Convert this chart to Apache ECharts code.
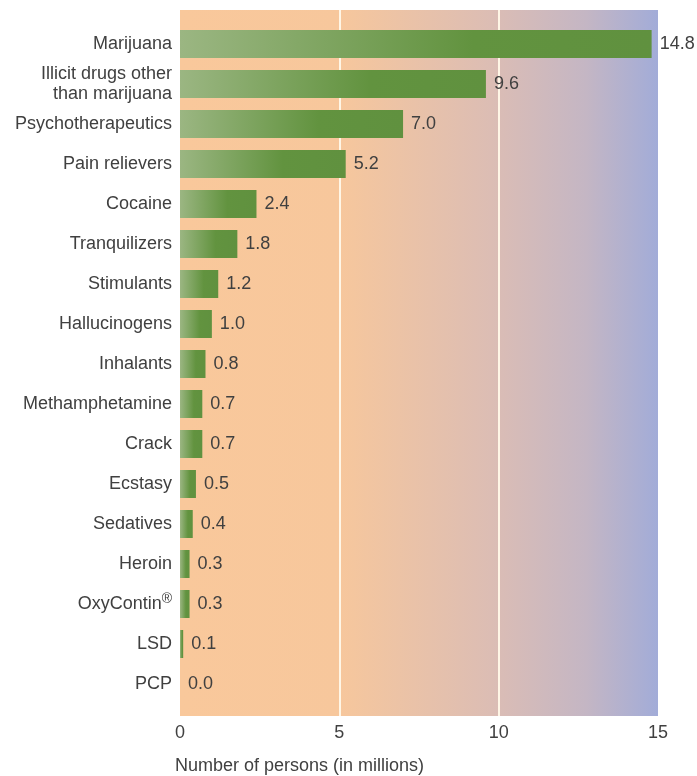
<!DOCTYPE html>
<html>
<head>
<meta charset="utf-8">
<script src="https://cdn.jsdelivr.net/npm/echarts@6/dist/echarts.min.js"></script>
<style>html,body{margin:0;padding:0;background:#fff}#c{width:697px;height:776px}</style>
</head>
<body>
<div id="c"></div>
<script>
const categories = ['Marijuana', 'Illicit drugs other\nthan marijuana', 'Psychotherapeutics', 'Pain relievers', 'Cocaine', 'Tranquilizers', 'Stimulants', 'Hallucinogens', 'Inhalants', 'Methamphetamine', 'Crack', 'Ecstasy', 'Sedatives', 'Heroin', 'OxyContin®', 'LSD', 'PCP'];
const values = [14.8, 9.6, 7.0, 5.2, 2.4, 1.8, 1.2, 1.0, 0.8, 0.7, 0.7, 0.5, 0.4, 0.3, 0.3, 0.1, 0.0];
const xTicks = [0, 5, 10, 15];
const axisTitle = 'Number of persons (in millions)';

const FONT = 'Liberation Sans';
const TXT = '#404040';
const FS = 18;
const chart = echarts.init(document.getElementById('c'));

const bgGrad = new echarts.graphic.LinearGradient(0, 0, 1, 0, [
  {offset: 0, color: '#f9c89b'},
  {offset: 0.33, color: '#f7c79c'},
  {offset: 0.65, color: '#dcbdb4'},
  {offset: 0.85, color: '#c4b6c4'},
  {offset: 1, color: '#a2acd8'}
]);
const barGrad = new echarts.graphic.LinearGradient(0, 0, 1, 0, [
  {offset: 0, color: '#9bb682'},
  {offset: 0.62, color: '#62933f'},
  {offset: 1, color: '#60913f'}
]);

chart.setOption({
  animation: false,
  title: {
    text: axisTitle, left: 175, top: 757, padding: 0,
    textStyle: {fontFamily: FONT, fontSize: FS, fontWeight: 'normal', color: TXT}
  },
  grid: [
    {left: 180, top: 10, width: 478, height: 706, show: true, backgroundColor: bgGrad, borderWidth: 0},
    {left: 180, top: 24, width: 478, height: 680}
  ],
  xAxis: [
    {
      gridIndex: 0, type: 'value', min: xTicks[0], max: xTicks[xTicks.length - 1], interval: 5,
      axisLine: {show: false}, axisTick: {show: false},
      axisLabel: {fontFamily: FONT, fontSize: FS, color: TXT, margin: 8},
      splitLine: {show: true, showMinLine: false, showMaxLine: false, lineStyle: {color: '#fff6e6', width: 2}}
    },
    {
      gridIndex: 1, type: 'value', min: xTicks[0], max: xTicks[xTicks.length - 1], show: false
    }
  ],
  yAxis: [
    {gridIndex: 0, type: 'value', min: 0, max: 1, show: false},
    {
      gridIndex: 1, type: 'category', data: categories, inverse: true,
      axisLine: {show: false}, axisTick: {show: false},
      axisLabel: {
        fontFamily: FONT, fontSize: FS, color: TXT, margin: 8, lineHeight: 20,
        formatter: function (v) { return v.replace('®', '{sup|®}'); },
        rich: {sup: {fontFamily: FONT, fontSize: 14, color: TXT, padding: [0, 0, 9, 0]}}
      }
    }
  ],
  series: [{
    type: 'bar', xAxisIndex: 1, yAxisIndex: 1, data: values, barWidth: 28,
    itemStyle: {color: barGrad},
    label: {
      show: true, position: 'right', distance: 8,
      fontFamily: FONT, fontSize: FS, color: TXT,
      formatter: function (p) { return p.value.toFixed(1); }
    }
  }]
});
</script>
</body>
</html>
